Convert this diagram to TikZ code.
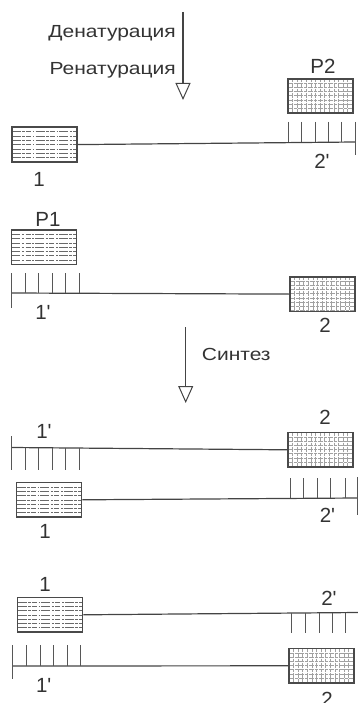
\documentclass[tikz,border=0pt]{standalone}
\usepackage{fontspec}
\setmainfont{Liberation Sans}
\usetikzlibrary{arrows.meta}
\definecolor{lc}{HTML}{444444}
\definecolor{bc}{HTML}{4A4A4A}
\definecolor{tc}{HTML}{333333}
\newcommand{\pr}{\textquotesingle}
\begin{document}
\begin{tikzpicture}[x=1pt,y=-1pt,
  ln/.style={draw=lc, line width=1.2pt},
  tk/.style={draw=lc!90, line width=1pt},
  lbl/.style={text=tc, inner sep=0pt, font=\fontsize{20.5}{21}\selectfont},
  cyr/.style={text=tc, inner sep=0pt, font=\fontsize{17.5}{18}\selectfont},
  flowarrow/.style={draw=lc, line width=1.1pt, -{Triangle[open, length=17pt, width=15pt, line width=1pt]}},
  hbox/.style={draw=bc, line width=1.7pt, fill=white, minimum width=65pt, minimum height=34.5pt, inner sep=0pt, anchor=north west,
    path picture={
      \foreach \k in {1,...,7}{
        \draw[lc!80, line width=0.35pt, dash pattern=on 9pt off 1.5pt on 2.5pt off 1.2pt on 5pt off 1.8pt on 1.5pt off 1.2pt]
          ([yshift=-\k*4.3pt]path picture bounding box.north west) -- ++(70pt,0pt);}
    }},
  gbox/.style={draw=bc, line width=1.7pt, fill=white, minimum width=65pt, minimum height=34.5pt, inner sep=0pt, anchor=north west,
    path picture={
      \foreach \k in {1,...,14}{
        \draw[lc!50, line width=0.35pt, dash pattern=on 3pt off 1pt on 5pt off 1pt]
          ([xshift=\k*4.6pt]path picture bounding box.north west) -- ++(0pt,-40pt);}
      \foreach \k in {1,...,8}{
        \draw[lc!50, line width=0.35pt, dash pattern=on 5pt off 1pt on 3pt off 1pt]
          ([yshift=-\k*4.2pt]path picture bounding box.north west) -- ++(70pt,0pt);}
    }},
]
\useasboundingbox (0,0) rectangle (358,703);

% ---------- top arrow ----------
\coordinate (a1s) at (183,12);
\coordinate (a1e) at (183,100);
\draw[flowarrow] (a1s) -- (a1e);
\node[cyr, anchor=base east] (den) at (176,37.3) {\scalebox{1.2}[1]{Денатурация}};
\node[cyr, anchor=base east] (ren) at (176,74.3) {\scalebox{1.2}[1]{Ренатурация}};

% ---------- section 1 ----------
\node[gbox] (p2) at (287,78) {};
\node[lbl] (p2l) at (323,66) {P2};
\node[hbox] (b1a) at (11,126.5) {};
\coordinate (e1a) at (355,142);
\draw[ln] (b1a.east) -- (e1a);
\foreach \x in {288,301.5,315,328.3,341.7}{\draw[tk] (\x,122) -- (\x,142);}
\draw[tk] (355,122) -- (355,155);
\node[lbl] (l2pa) at (322,161.5) {2\pr};
\node[lbl] (l1a) at (39,179) {1};

% ---------- section 2 ----------
\node[lbl] (p1l) at (48,219.5) {P1};
\node[hbox] (p1) at (10.5,229) {};
\node[gbox] (b2b) at (289,276) {};
\coordinate (s2b) at (11.7,293);
\draw[ln] (s2b) -- (b2b.west);
\draw[tk] (11.7,273) -- (11.7,308);
\foreach \x in {25,38.5,52,65.5,79}{\draw[tk] (\x,273) -- (\x,293);}
\node[lbl] (l1pb) at (43,312.5) {1\pr};
\node[lbl] (l2b) at (325,325.5) {2};

% ---------- synthesis arrow ----------
\coordinate (a2s) at (185.7,327);
\coordinate (a2e) at (185.7,403);
\draw[flowarrow] (a2s) -- (a2e);
\node[cyr, anchor=west] (syn) at (201.7,354) {\scalebox{1.2}[1]{Синтез}};

% ---------- section 3 ----------
\node[lbl] (l1pc) at (44,431.7) {1\pr};
\node[lbl] (l2c) at (325,417) {2};
\node[gbox] (b2c) at (287,431.7) {};
\coordinate (s3c) at (11.7,447.5);
\draw[ln] (s3c) -- (b2c.west);
\draw[tk] (11.7,436) -- (11.7,470);
\foreach \x in {25,38.5,52,65.7,79}{\draw[tk] (\x,447.5) -- (\x,470);}
\node[hbox] (b1c) at (15.7,481.7) {};
\coordinate (e3c) at (357,498);
\draw[ln] (b1c.east) -- (e3c);
\foreach \x in {290,303.3,317.3,330.7,345}{\draw[tk] (\x,478) -- (\x,498);}
\draw[tk] (357,477) -- (357,515);
\node[lbl] (l1c) at (45,531.5) {1};
\node[lbl] (l2pc) at (327.5,515) {2\pr};

% ---------- section 4 ----------
\node[lbl] (l1d) at (45,584) {1};
\node[lbl] (l2pd) at (329,598.7) {2\pr};
\node[hbox] (b1d) at (16.7,596.7) {};
\coordinate (e4d) at (358,612.5);
\draw[ln] (b1d.east) -- (e4d);
\foreach \x in {291.7,305,319,332.3,345.7}{\draw[tk] (\x,612.5) -- (\x,633.3);}
\node[gbox] (b2d) at (288,647.7) {};
\coordinate (s4d) at (12.7,666);
\draw[ln] (s4d) -- (b2d.west);
\draw[tk] (12.7,645) -- (12.7,679);
\foreach \x in {26.7,40,53.3,67.3,80.7}{\draw[tk] (\x,645) -- (\x,666);}
\node[lbl] (l1pd) at (43.7,685) {1\pr};
\node[lbl] (l2d) at (327,699) {2};
\end{tikzpicture}
\end{document}
